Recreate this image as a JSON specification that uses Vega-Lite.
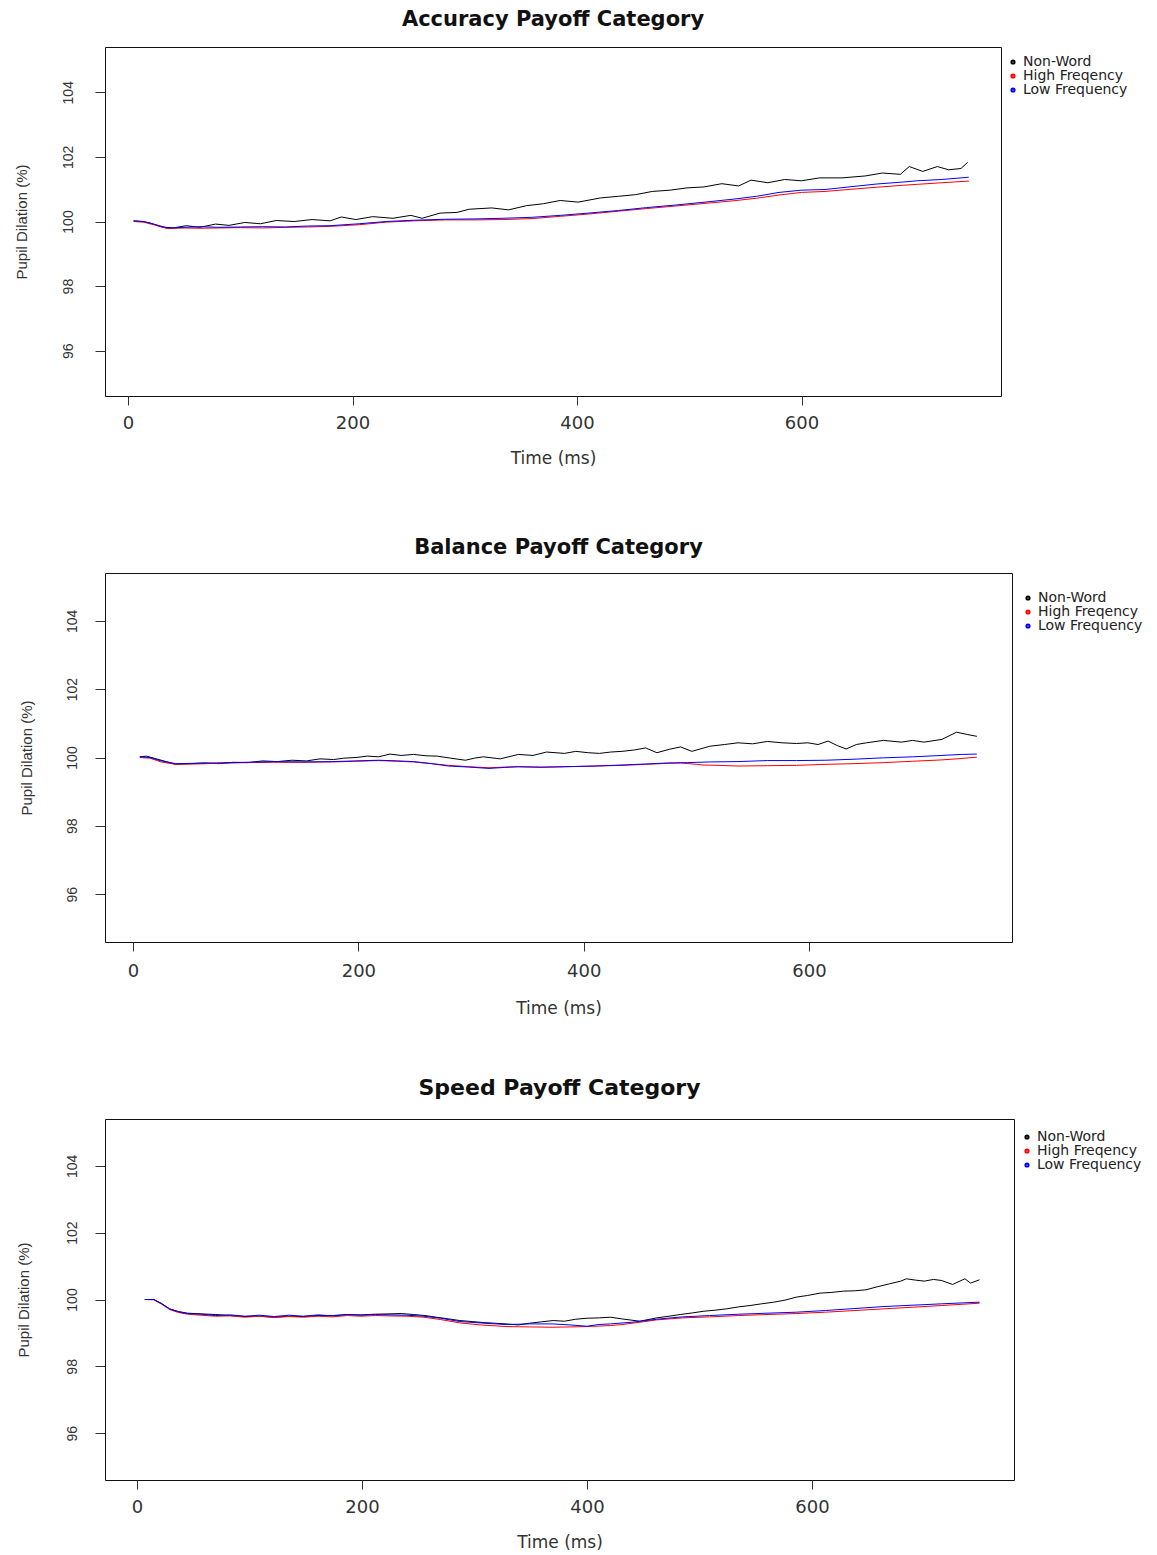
{
  "$schema": "https://vega.github.io/schema/vega-lite/v6.json",
  "background": "white",
  "padding": {"left": 13, "top": 8, "right": 0, "bottom": 0},
  "config": {
    "view": {"stroke": "#111111", "strokeWidth": 1},
    "title": {"font": "DejaVu Sans", "fontSize": 21, "fontWeight": "bold", "color": "#111111", "anchor": "middle"},
    "axis": {"grid": false, "domain": false, "tickColor": "#333333", "labelColor": "#333333", "titleColor": "#333333", "titleFontWeight": "normal"},
    "axisX": {"labelFont": "DejaVu Sans", "labelFontSize": 18, "titleFont": "DejaVu Sans", "titleFontSize": 17, "tickSize": 9, "labelPadding": 9, "titlePadding": 18},
    "axisY": {"labelFont": "Liberation Sans", "labelFontSize": 14, "titleFont": "Liberation Sans", "titleFontSize": 15, "tickSize": 10, "labelAngle": 270, "labelPadding": 16, "titlePadding": 32},
    "legend": {"orient": "none", "padding": 0, "title": null, "labelFont": "DejaVu Sans", "labelFontSize": 14, "labelColor": "#222222", "symbolType": "circle", "symbolSize": 10, "symbolStrokeWidth": 2, "rowPadding": 0, "labelOffset": 3}
  },
  "datasets": {
    "accuracy": [
      {"s":"Non-Word","t":5,"v":100.02},{"s":"Non-Word","t":12,"v":100.0},{"s":"Non-Word","t":20,"v":99.95},{"s":"Non-Word","t":30,"v":99.83},{"s":"Non-Word","t":40,"v":99.8},{"s":"Non-Word","t":52,"v":99.87},{"s":"Non-Word","t":64,"v":99.82},{"s":"Non-Word","t":78,"v":99.92},{"s":"Non-Word","t":90,"v":99.88},{"s":"Non-Word","t":104,"v":99.97},{"s":"Non-Word","t":118,"v":99.93},{"s":"Non-Word","t":132,"v":100.03},{"s":"Non-Word","t":148,"v":100.0},{"s":"Non-Word","t":164,"v":100.06},{"s":"Non-Word","t":180,"v":100.02},{"s":"Non-Word","t":190,"v":100.14},{"s":"Non-Word","t":203,"v":100.06},{"s":"Non-Word","t":218,"v":100.15},{"s":"Non-Word","t":236,"v":100.1},{"s":"Non-Word","t":252,"v":100.19},{"s":"Non-Word","t":262,"v":100.1},{"s":"Non-Word","t":278,"v":100.26},{"s":"Non-Word","t":293,"v":100.28},{"s":"Non-Word","t":304,"v":100.38},{"s":"Non-Word","t":324,"v":100.42},{"s":"Non-Word","t":339,"v":100.36},{"s":"Non-Word","t":355,"v":100.49},{"s":"Non-Word","t":370,"v":100.55},{"s":"Non-Word","t":385,"v":100.65},{"s":"Non-Word","t":401,"v":100.6},{"s":"Non-Word","t":421,"v":100.73},{"s":"Non-Word","t":437,"v":100.78},{"s":"Non-Word","t":452,"v":100.83},{"s":"Non-Word","t":467,"v":100.93},{"s":"Non-Word","t":483,"v":100.97},{"s":"Non-Word","t":498,"v":101.04},{"s":"Non-Word","t":513,"v":101.07},{"s":"Non-Word","t":529,"v":101.17},{"s":"Non-Word","t":544,"v":101.1},{"s":"Non-Word","t":555,"v":101.28},{"s":"Non-Word","t":570,"v":101.2},{"s":"Non-Word","t":585,"v":101.3},{"s":"Non-Word","t":600,"v":101.26},{"s":"Non-Word","t":616,"v":101.35},{"s":"Non-Word","t":636,"v":101.35},{"s":"Non-Word","t":657,"v":101.41},{"s":"Non-Word","t":672,"v":101.5},{"s":"Non-Word","t":688,"v":101.46},{"s":"Non-Word","t":696,"v":101.7},{"s":"Non-Word","t":708,"v":101.55},{"s":"Non-Word","t":721,"v":101.7},{"s":"Non-Word","t":731,"v":101.6},{"s":"Non-Word","t":742,"v":101.64},{"s":"Non-Word","t":748,"v":101.83},
      {"s":"High Freqency","t":5,"v":100.0},{"s":"High Freqency","t":14,"v":99.98},{"s":"High Freqency","t":25,"v":99.88},{"s":"High Freqency","t":35,"v":99.78},{"s":"High Freqency","t":50,"v":99.8},{"s":"High Freqency","t":65,"v":99.79},{"s":"High Freqency","t":80,"v":99.8},{"s":"High Freqency","t":100,"v":99.81},{"s":"High Freqency","t":120,"v":99.8},{"s":"High Freqency","t":140,"v":99.82},{"s":"High Freqency","t":160,"v":99.83},{"s":"High Freqency","t":180,"v":99.85},{"s":"High Freqency","t":206,"v":99.9},{"s":"High Freqency","t":230,"v":99.98},{"s":"High Freqency","t":255,"v":100.02},{"s":"High Freqency","t":283,"v":100.05},{"s":"High Freqency","t":310,"v":100.05},{"s":"High Freqency","t":334,"v":100.06},{"s":"High Freqency","t":360,"v":100.09},{"s":"High Freqency","t":385,"v":100.16},{"s":"High Freqency","t":410,"v":100.23},{"s":"High Freqency","t":437,"v":100.32},{"s":"High Freqency","t":462,"v":100.4},{"s":"High Freqency","t":488,"v":100.48},{"s":"High Freqency","t":514,"v":100.56},{"s":"High Freqency","t":539,"v":100.64},{"s":"High Freqency","t":560,"v":100.72},{"s":"High Freqency","t":580,"v":100.82},{"s":"High Freqency","t":600,"v":100.9},{"s":"High Freqency","t":621,"v":100.93},{"s":"High Freqency","t":645,"v":101.0},{"s":"High Freqency","t":667,"v":101.06},{"s":"High Freqency","t":690,"v":101.12},{"s":"High Freqency","t":703,"v":101.15},{"s":"High Freqency","t":725,"v":101.2},{"s":"High Freqency","t":749,"v":101.25},
      {"s":"Low Frequency","t":5,"v":100.02},{"s":"Low Frequency","t":14,"v":100.0},{"s":"Low Frequency","t":25,"v":99.9},{"s":"Low Frequency","t":35,"v":99.8},{"s":"Low Frequency","t":50,"v":99.82},{"s":"Low Frequency","t":65,"v":99.84},{"s":"Low Frequency","t":80,"v":99.82},{"s":"Low Frequency","t":100,"v":99.83},{"s":"Low Frequency","t":120,"v":99.84},{"s":"Low Frequency","t":140,"v":99.83},{"s":"Low Frequency","t":160,"v":99.86},{"s":"Low Frequency","t":180,"v":99.87},{"s":"Low Frequency","t":206,"v":99.93},{"s":"Low Frequency","t":230,"v":100.0},{"s":"Low Frequency","t":255,"v":100.04},{"s":"Low Frequency","t":283,"v":100.07},{"s":"Low Frequency","t":310,"v":100.08},{"s":"Low Frequency","t":334,"v":100.1},{"s":"Low Frequency","t":360,"v":100.13},{"s":"Low Frequency","t":385,"v":100.19},{"s":"Low Frequency","t":410,"v":100.26},{"s":"Low Frequency","t":437,"v":100.34},{"s":"Low Frequency","t":462,"v":100.43},{"s":"Low Frequency","t":488,"v":100.51},{"s":"Low Frequency","t":514,"v":100.6},{"s":"Low Frequency","t":539,"v":100.69},{"s":"Low Frequency","t":560,"v":100.78},{"s":"Low Frequency","t":580,"v":100.9},{"s":"Low Frequency","t":600,"v":100.97},{"s":"Low Frequency","t":621,"v":100.99},{"s":"Low Frequency","t":645,"v":101.08},{"s":"Low Frequency","t":667,"v":101.16},{"s":"Low Frequency","t":690,"v":101.22},{"s":"Low Frequency","t":703,"v":101.26},{"s":"Low Frequency","t":725,"v":101.3},{"s":"Low Frequency","t":749,"v":101.37}
    ],
    "balance": [
      {"s":"Non-Word","t":6,"v":100.02},{"s":"Non-Word","t":12,"v":100.04},{"s":"Non-Word","t":25,"v":99.92},{"s":"Non-Word","t":38,"v":99.8},{"s":"Non-Word","t":50,"v":99.82},{"s":"Non-Word","t":63,"v":99.84},{"s":"Non-Word","t":76,"v":99.82},{"s":"Non-Word","t":89,"v":99.86},{"s":"Non-Word","t":102,"v":99.85},{"s":"Non-Word","t":115,"v":99.9},{"s":"Non-Word","t":128,"v":99.88},{"s":"Non-Word","t":141,"v":99.92},{"s":"Non-Word","t":154,"v":99.9},{"s":"Non-Word","t":166,"v":99.96},{"s":"Non-Word","t":178,"v":99.94},{"s":"Non-Word","t":187,"v":99.98},{"s":"Non-Word","t":198,"v":100.0},{"s":"Non-Word","t":208,"v":100.04},{"s":"Non-Word","t":218,"v":100.02},{"s":"Non-Word","t":228,"v":100.1},{"s":"Non-Word","t":238,"v":100.06},{"s":"Non-Word","t":249,"v":100.09},{"s":"Non-Word","t":260,"v":100.05},{"s":"Non-Word","t":270,"v":100.04},{"s":"Non-Word","t":282,"v":99.98},{"s":"Non-Word","t":295,"v":99.92},{"s":"Non-Word","t":303,"v":99.98},{"s":"Non-Word","t":311,"v":100.02},{"s":"Non-Word","t":326,"v":99.96},{"s":"Non-Word","t":342,"v":100.09},{"s":"Non-Word","t":355,"v":100.06},{"s":"Non-Word","t":367,"v":100.16},{"s":"Non-Word","t":383,"v":100.12},{"s":"Non-Word","t":393,"v":100.18},{"s":"Non-Word","t":404,"v":100.14},{"s":"Non-Word","t":414,"v":100.12},{"s":"Non-Word","t":424,"v":100.16},{"s":"Non-Word","t":434,"v":100.18},{"s":"Non-Word","t":445,"v":100.22},{"s":"Non-Word","t":455,"v":100.28},{"s":"Non-Word","t":465,"v":100.14},{"s":"Non-Word","t":476,"v":100.24},{"s":"Non-Word","t":486,"v":100.31},{"s":"Non-Word","t":496,"v":100.18},{"s":"Non-Word","t":512,"v":100.33},{"s":"Non-Word","t":525,"v":100.38},{"s":"Non-Word","t":537,"v":100.43},{"s":"Non-Word","t":550,"v":100.4},{"s":"Non-Word","t":563,"v":100.47},{"s":"Non-Word","t":576,"v":100.43},{"s":"Non-Word","t":589,"v":100.41},{"s":"Non-Word","t":599,"v":100.43},{"s":"Non-Word","t":608,"v":100.38},{"s":"Non-Word","t":617,"v":100.48},{"s":"Non-Word","t":625,"v":100.35},{"s":"Non-Word","t":633,"v":100.25},{"s":"Non-Word","t":642,"v":100.38},{"s":"Non-Word","t":651,"v":100.43},{"s":"Non-Word","t":666,"v":100.5},{"s":"Non-Word","t":682,"v":100.45},{"s":"Non-Word","t":692,"v":100.5},{"s":"Non-Word","t":702,"v":100.45},{"s":"Non-Word","t":718,"v":100.53},{"s":"Non-Word","t":731,"v":100.74},{"s":"Non-Word","t":741,"v":100.67},{"s":"Non-Word","t":749,"v":100.62},
      {"s":"High Freqency","t":6,"v":100.0},{"s":"High Freqency","t":15,"v":99.98},{"s":"High Freqency","t":25,"v":99.87},{"s":"High Freqency","t":38,"v":99.8},{"s":"High Freqency","t":55,"v":99.81},{"s":"High Freqency","t":74,"v":99.83},{"s":"High Freqency","t":100,"v":99.85},{"s":"High Freqency","t":125,"v":99.86},{"s":"High Freqency","t":150,"v":99.86},{"s":"High Freqency","t":177,"v":99.87},{"s":"High Freqency","t":198,"v":99.89},{"s":"High Freqency","t":218,"v":99.91},{"s":"High Freqency","t":235,"v":99.89},{"s":"High Freqency","t":249,"v":99.87},{"s":"High Freqency","t":265,"v":99.82},{"s":"High Freqency","t":280,"v":99.77},{"s":"High Freqency","t":298,"v":99.73},{"s":"High Freqency","t":316,"v":99.7},{"s":"High Freqency","t":330,"v":99.72},{"s":"High Freqency","t":342,"v":99.73},{"s":"High Freqency","t":362,"v":99.71},{"s":"High Freqency","t":383,"v":99.73},{"s":"High Freqency","t":410,"v":99.75},{"s":"High Freqency","t":434,"v":99.77},{"s":"High Freqency","t":455,"v":99.8},{"s":"High Freqency","t":475,"v":99.83},{"s":"High Freqency","t":486,"v":99.84},{"s":"High Freqency","t":500,"v":99.8},{"s":"High Freqency","t":506,"v":99.78},{"s":"High Freqency","t":520,"v":99.77},{"s":"High Freqency","t":537,"v":99.75},{"s":"High Freqency","t":563,"v":99.76},{"s":"High Freqency","t":589,"v":99.77},{"s":"High Freqency","t":615,"v":99.8},{"s":"High Freqency","t":640,"v":99.82},{"s":"High Freqency","t":666,"v":99.85},{"s":"High Freqency","t":692,"v":99.89},{"s":"High Freqency","t":718,"v":99.93},{"s":"High Freqency","t":735,"v":99.97},{"s":"High Freqency","t":749,"v":100.01},
      {"s":"Low Frequency","t":6,"v":100.02},{"s":"Low Frequency","t":15,"v":100.0},{"s":"Low Frequency","t":25,"v":99.9},{"s":"Low Frequency","t":38,"v":99.82},{"s":"Low Frequency","t":55,"v":99.83},{"s":"Low Frequency","t":74,"v":99.84},{"s":"Low Frequency","t":100,"v":99.86},{"s":"Low Frequency","t":125,"v":99.88},{"s":"Low Frequency","t":150,"v":99.87},{"s":"Low Frequency","t":177,"v":99.88},{"s":"Low Frequency","t":198,"v":99.9},{"s":"Low Frequency","t":218,"v":99.92},{"s":"Low Frequency","t":235,"v":99.9},{"s":"Low Frequency","t":249,"v":99.88},{"s":"Low Frequency","t":265,"v":99.82},{"s":"Low Frequency","t":280,"v":99.75},{"s":"Low Frequency","t":298,"v":99.72},{"s":"Low Frequency","t":316,"v":99.68},{"s":"Low Frequency","t":330,"v":99.71},{"s":"Low Frequency","t":342,"v":99.73},{"s":"Low Frequency","t":362,"v":99.72},{"s":"Low Frequency","t":383,"v":99.73},{"s":"Low Frequency","t":410,"v":99.75},{"s":"Low Frequency","t":434,"v":99.78},{"s":"Low Frequency","t":455,"v":99.81},{"s":"Low Frequency","t":475,"v":99.84},{"s":"Low Frequency","t":492,"v":99.85},{"s":"Low Frequency","t":512,"v":99.87},{"s":"Low Frequency","t":537,"v":99.88},{"s":"Low Frequency","t":563,"v":99.91},{"s":"Low Frequency","t":589,"v":99.91},{"s":"Low Frequency","t":615,"v":99.92},{"s":"Low Frequency","t":640,"v":99.95},{"s":"Low Frequency","t":666,"v":99.99},{"s":"Low Frequency","t":692,"v":100.02},{"s":"Low Frequency","t":718,"v":100.06},{"s":"Low Frequency","t":735,"v":100.09},{"s":"Low Frequency","t":749,"v":100.1}
    ],
    "speed": [
      {"s":"Non-Word","t":7,"v":100.0},{"s":"Non-Word","t":15,"v":100.0},{"s":"Non-Word","t":22,"v":99.88},{"s":"Non-Word","t":29,"v":99.72},{"s":"Non-Word","t":37,"v":99.64},{"s":"Non-Word","t":45,"v":99.59},{"s":"Non-Word","t":57,"v":99.57},{"s":"Non-Word","t":70,"v":99.55},{"s":"Non-Word","t":83,"v":99.52},{"s":"Non-Word","t":96,"v":99.49},{"s":"Non-Word","t":109,"v":99.5},{"s":"Non-Word","t":122,"v":99.47},{"s":"Non-Word","t":135,"v":99.5},{"s":"Non-Word","t":148,"v":99.49},{"s":"Non-Word","t":161,"v":99.52},{"s":"Non-Word","t":174,"v":99.52},{"s":"Non-Word","t":187,"v":99.55},{"s":"Non-Word","t":199,"v":99.54},{"s":"Non-Word","t":212,"v":99.56},{"s":"Non-Word","t":225,"v":99.57},{"s":"Non-Word","t":235,"v":99.58},{"s":"Non-Word","t":246,"v":99.55},{"s":"Non-Word","t":256,"v":99.52},{"s":"Non-Word","t":266,"v":99.47},{"s":"Non-Word","t":277,"v":99.42},{"s":"Non-Word","t":287,"v":99.37},{"s":"Non-Word","t":298,"v":99.34},{"s":"Non-Word","t":308,"v":99.31},{"s":"Non-Word","t":318,"v":99.29},{"s":"Non-Word","t":328,"v":99.27},{"s":"Non-Word","t":339,"v":99.24},{"s":"Non-Word","t":349,"v":99.29},{"s":"Non-Word","t":359,"v":99.33},{"s":"Non-Word","t":370,"v":99.37},{"s":"Non-Word","t":380,"v":99.35},{"s":"Non-Word","t":390,"v":99.41},{"s":"Non-Word","t":400,"v":99.44},{"s":"Non-Word","t":411,"v":99.45},{"s":"Non-Word","t":421,"v":99.47},{"s":"Non-Word","t":431,"v":99.42},{"s":"Non-Word","t":447,"v":99.35},{"s":"Non-Word","t":462,"v":99.45},{"s":"Non-Word","t":473,"v":99.5},{"s":"Non-Word","t":483,"v":99.55},{"s":"Non-Word","t":494,"v":99.6},{"s":"Non-Word","t":504,"v":99.65},{"s":"Non-Word","t":514,"v":99.68},{"s":"Non-Word","t":524,"v":99.72},{"s":"Non-Word","t":535,"v":99.78},{"s":"Non-Word","t":545,"v":99.82},{"s":"Non-Word","t":555,"v":99.87},{"s":"Non-Word","t":566,"v":99.92},{"s":"Non-Word","t":576,"v":99.98},{"s":"Non-Word","t":586,"v":100.07},{"s":"Non-Word","t":596,"v":100.12},{"s":"Non-Word","t":607,"v":100.19},{"s":"Non-Word","t":617,"v":100.21},{"s":"Non-Word","t":628,"v":100.25},{"s":"Non-Word","t":638,"v":100.26},{"s":"Non-Word","t":648,"v":100.29},{"s":"Non-Word","t":658,"v":100.38},{"s":"Non-Word","t":669,"v":100.47},{"s":"Non-Word","t":679,"v":100.55},{"s":"Non-Word","t":684,"v":100.62},{"s":"Non-Word","t":692,"v":100.58},{"s":"Non-Word","t":700,"v":100.55},{"s":"Non-Word","t":708,"v":100.6},{"s":"Non-Word","t":715,"v":100.57},{"s":"Non-Word","t":725,"v":100.45},{"s":"Non-Word","t":736,"v":100.62},{"s":"Non-Word","t":741,"v":100.49},{"s":"Non-Word","t":749,"v":100.59},
      {"s":"High Freqency","t":7,"v":100.0},{"s":"High Freqency","t":15,"v":99.99},{"s":"High Freqency","t":22,"v":99.86},{"s":"High Freqency","t":29,"v":99.7},{"s":"High Freqency","t":37,"v":99.61},{"s":"High Freqency","t":45,"v":99.56},{"s":"High Freqency","t":57,"v":99.53},{"s":"High Freqency","t":70,"v":99.5},{"s":"High Freqency","t":83,"v":99.51},{"s":"High Freqency","t":96,"v":99.47},{"s":"High Freqency","t":109,"v":99.5},{"s":"High Freqency","t":122,"v":99.46},{"s":"High Freqency","t":135,"v":99.49},{"s":"High Freqency","t":148,"v":99.47},{"s":"High Freqency","t":161,"v":99.5},{"s":"High Freqency","t":174,"v":99.48},{"s":"High Freqency","t":187,"v":99.52},{"s":"High Freqency","t":199,"v":99.5},{"s":"High Freqency","t":212,"v":99.52},{"s":"High Freqency","t":225,"v":99.51},{"s":"High Freqency","t":240,"v":99.5},{"s":"High Freqency","t":255,"v":99.47},{"s":"High Freqency","t":270,"v":99.4},{"s":"High Freqency","t":287,"v":99.3},{"s":"High Freqency","t":305,"v":99.24},{"s":"High Freqency","t":328,"v":99.19},{"s":"High Freqency","t":349,"v":99.18},{"s":"High Freqency","t":369,"v":99.17},{"s":"High Freqency","t":385,"v":99.18},{"s":"High Freqency","t":400,"v":99.19},{"s":"High Freqency","t":421,"v":99.22},{"s":"High Freqency","t":431,"v":99.25},{"s":"High Freqency","t":447,"v":99.32},{"s":"High Freqency","t":462,"v":99.39},{"s":"High Freqency","t":485,"v":99.45},{"s":"High Freqency","t":509,"v":99.48},{"s":"High Freqency","t":535,"v":99.52},{"s":"High Freqency","t":560,"v":99.55},{"s":"High Freqency","t":586,"v":99.58},{"s":"High Freqency","t":612,"v":99.62},{"s":"High Freqency","t":638,"v":99.67},{"s":"High Freqency","t":664,"v":99.72},{"s":"High Freqency","t":690,"v":99.77},{"s":"High Freqency","t":715,"v":99.82},{"s":"High Freqency","t":735,"v":99.86},{"s":"High Freqency","t":749,"v":99.89},
      {"s":"Low Frequency","t":7,"v":100.0},{"s":"Low Frequency","t":15,"v":100.0},{"s":"Low Frequency","t":22,"v":99.87},{"s":"Low Frequency","t":29,"v":99.72},{"s":"Low Frequency","t":37,"v":99.63},{"s":"Low Frequency","t":45,"v":99.58},{"s":"Low Frequency","t":57,"v":99.56},{"s":"Low Frequency","t":70,"v":99.52},{"s":"Low Frequency","t":83,"v":99.54},{"s":"Low Frequency","t":96,"v":99.5},{"s":"Low Frequency","t":109,"v":99.53},{"s":"Low Frequency","t":122,"v":99.49},{"s":"Low Frequency","t":135,"v":99.53},{"s":"Low Frequency","t":148,"v":99.5},{"s":"Low Frequency","t":161,"v":99.54},{"s":"Low Frequency","t":174,"v":99.51},{"s":"Low Frequency","t":187,"v":99.55},{"s":"Low Frequency","t":199,"v":99.53},{"s":"Low Frequency","t":212,"v":99.55},{"s":"Low Frequency","t":225,"v":99.54},{"s":"Low Frequency","t":240,"v":99.53},{"s":"Low Frequency","t":255,"v":99.5},{"s":"Low Frequency","t":270,"v":99.44},{"s":"Low Frequency","t":287,"v":99.34},{"s":"Low Frequency","t":305,"v":99.3},{"s":"Low Frequency","t":328,"v":99.25},{"s":"Low Frequency","t":349,"v":99.27},{"s":"Low Frequency","t":369,"v":99.27},{"s":"Low Frequency","t":385,"v":99.24},{"s":"Low Frequency","t":400,"v":99.2},{"s":"Low Frequency","t":410,"v":99.25},{"s":"Low Frequency","t":421,"v":99.27},{"s":"Low Frequency","t":440,"v":99.32},{"s":"Low Frequency","t":462,"v":99.41},{"s":"Low Frequency","t":485,"v":99.48},{"s":"Low Frequency","t":509,"v":99.52},{"s":"Low Frequency","t":535,"v":99.56},{"s":"Low Frequency","t":560,"v":99.59},{"s":"Low Frequency","t":586,"v":99.62},{"s":"Low Frequency","t":612,"v":99.67},{"s":"Low Frequency","t":638,"v":99.73},{"s":"Low Frequency","t":664,"v":99.79},{"s":"Low Frequency","t":690,"v":99.83},{"s":"Low Frequency","t":715,"v":99.87},{"s":"Low Frequency","t":735,"v":99.9},{"s":"Low Frequency","t":749,"v":99.92}
    ]
  },
  "columns": 1,
  "bounds": "flush",
  "spacing": 177,
  "resolve": {"legend": {"color": "independent"}},
  "concat": [
    {
      "data": {"name": "accuracy"},
      "title": {"text": "Accuracy Payoff Category", "offset": 17},
      "width": 896,
      "height": 349,
      "mark": {"type": "line", "strokeWidth": 1},
      "encoding": {
        "x": {"field": "t", "type": "quantitative", "scale": {"domain": [-20.5, 777.7], "nice": false, "zero": false}, "axis": {"values": [0, 200, 400, 600], "format": "d", "title": "Time (ms)"}},
        "y": {"field": "v", "type": "quantitative", "scale": {"domain": [94.6, 105.4], "nice": false, "zero": false}, "axis": {"values": [96, 98, 100, 102, 104], "format": "d", "title": "Pupil Dilation (%)", "labelPadding": 20, "titlePadding": 32}},
        "color": {"field": "s", "type": "nominal", "scale": {"domain": ["Non-Word", "High Freqency", "Low Frequency"], "range": ["#000000", "#ff0000", "#0000ff"]}, "legend": {"legendX": 901, "legendY": 8}}
      }
    },
    {
      "data": {"name": "balance"},
      "title": {"text": "Balance Payoff Category", "offset": 15},
      "width": 907,
      "height": 369,
      "mark": {"type": "line", "strokeWidth": 1},
      "encoding": {
        "x": {"field": "t", "type": "quantitative", "scale": {"domain": [-24.9, 780.2], "nice": false, "zero": false}, "axis": {"values": [0, 200, 400, 600], "format": "d", "title": "Time (ms)", "labelPadding": 11, "titlePadding": 20}},
        "y": {"field": "v", "type": "quantitative", "scale": {"domain": [94.6, 105.4], "nice": false, "zero": false}, "axis": {"values": [96, 98, 100, 102, 104], "format": "d", "title": "Pupil Dilation (%)", "labelPadding": 16, "titlePadding": 31}},
        "color": {"field": "s", "type": "nominal", "scale": {"domain": ["Non-Word", "High Freqency", "Low Frequency"], "range": ["#000000", "#ff0000", "#0000ff"]}, "legend": {"legendX": 916, "legendY": 18}}
      }
    },
    {
      "data": {"name": "speed"},
      "title": {"text": "Speed Payoff Category", "offset": 19, "fontSize": 22},
      "width": 909,
      "height": 361,
      "mark": {"type": "line", "strokeWidth": 1},
      "encoding": {
        "x": {"field": "t", "type": "quantitative", "scale": {"domain": [-28.4, 779.6], "nice": false, "zero": false}, "axis": {"values": [0, 200, 400, 600], "format": "d", "title": "Time (ms)"}},
        "y": {"field": "v", "type": "quantitative", "scale": {"domain": [94.6, 105.4], "nice": false, "zero": false}, "axis": {"values": [96, 98, 100, 102, 104], "format": "d", "title": "Pupil Dilation (%)", "labelPadding": 16, "titlePadding": 34}},
        "color": {"field": "s", "type": "nominal", "scale": {"domain": ["Non-Word", "High Freqency", "Low Frequency"], "range": ["#000000", "#ff0000", "#0000ff"]}, "legend": {"legendX": 915, "legendY": 11}}
      }
    }
  ]
}
